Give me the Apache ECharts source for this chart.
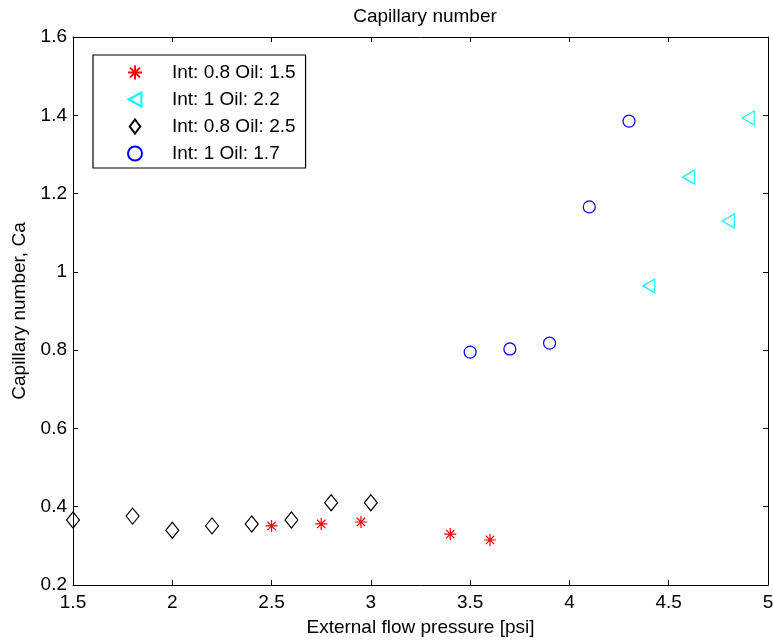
<!DOCTYPE html>
<html><head><meta charset="utf-8">
<script src="https://cdn.jsdelivr.net/npm/echarts@6/dist/echarts.min.js"></script>
<style>html,body{margin:0;padding:0;background:#fff}#c{width:773px;height:640px}</style>
</head><body><div id="c"></div>
<script>
const seriesNames = ['Int: 0.8 Oil: 1.5', 'Int: 1 Oil: 2.2', 'Int: 0.8 Oil: 2.5', 'Int: 1 Oil: 1.7'];
const redX = [2.5, 2.75, 2.95, 3.4, 3.6];
const redY = [0.351, 0.356, 0.361, 0.330, 0.315];
const cyanX = [4.4, 4.6, 4.8, 4.9];
const cyanY = [0.964, 1.242, 1.130, 1.393];
const blackX = [1.5, 1.8, 2.0, 2.2, 2.4, 2.6, 2.8, 3.0];
const blackY = [0.366, 0.376, 0.340, 0.351, 0.356, 0.366, 0.410, 0.410];
const blueX = [3.5, 3.7, 3.9, 4.1, 4.3];
const blueY = [0.795, 0.803, 0.818, 1.166, 1.385];

const pair = (xs, ys) => xs.map((x, i) => [x, ys[i]]);
const FONT = 'Liberation Sans';
const FS = 19;
const chart = echarts.init(document.getElementById('c'));
const fmt = v => String(+v.toFixed(1));
const baseAxis = {
  axisLine: {show: true, onZero: false, lineStyle: {color: '#000', width: 1}},
  axisTick: {show: true, inside: true, length: 5, lineStyle: {color: '#000'}},
  splitLine: {show: false}
};
chart.setOption({
  animation: false,
  backgroundColor: '#fff',
  title: {text: 'Capillary number', left: 420, top: 2, textAlign: 'center',
    textStyle: {fontFamily: FONT, fontSize: FS, fontWeight: 'normal', color: '#000'}},
  grid: {left: 73, right: 5, top: 37, bottom: 55, outerBoundsMode: 'none', containLabel: false},
  legend: {
    left: 93, top: 55, orient: 'vertical',
    backgroundColor: '#fff', borderColor: '#000', borderWidth: 1.2,
    padding: [8, 10, 5, 34], itemGap: 8, itemWidth: 16, itemHeight: 14,
    textStyle: {fontFamily: FONT, fontSize: FS, color: '#000', lineHeight: 19, padding: [0, 0, 0, 24]},
    data: seriesNames
  },
  xAxis: [
    Object.assign({}, baseAxis, {type: 'value', min: 1.5, max: 5, interval: 0.5, position: 'bottom',
      name: 'External flow pressure [psi]', nameLocation: 'middle', nameGap: 33,
      nameTextStyle: {fontFamily: FONT, fontSize: FS, color: '#000'},
      axisLabel: {formatter: fmt, fontFamily: FONT, fontSize: FS, color: '#000', margin: 8}}),
    Object.assign({}, baseAxis, {type: 'value', min: 1.5, max: 5, interval: 0.5, position: 'top',
      axisLabel: {show: false}})
  ],
  yAxis: [
    Object.assign({}, baseAxis, {type: 'value', min: 0.2, max: 1.6, interval: 0.2, position: 'left',
      name: 'Capillary number, Ca', nameLocation: 'middle', nameGap: 44,
      nameTextStyle: {fontFamily: FONT, fontSize: FS, color: '#000'},
      axisLabel: {formatter: fmt, fontFamily: FONT, fontSize: FS, color: '#000', margin: 6}}),
    Object.assign({}, baseAxis, {type: 'value', min: 0.2, max: 1.6, interval: 0.2, position: 'right',
      axisLabel: {show: false}})
  ],
  series: [
    {name: seriesNames[0], type: 'scatter', data: pair(redX, redY),
      symbol: 'path://M0,-1L0,1M-1,0L1,0M-0.7,-0.7L0.7,0.7M-0.7,0.7L0.7,-0.7', symbolSize: 12, symbolKeepAspect: true,
      itemStyle: {color: 'rgba(0,0,0,0)', borderColor: '#ff0000', borderWidth: 1.2, opacity: 1}},
    {name: seriesNames[1], type: 'scatter', data: pair(cyanX, cyanY),
      symbol: 'path://M0,6L11,0L11,12Z', symbolSize: [12, 14],
      itemStyle: {color: 'rgba(0,0,0,0)', borderColor: '#00ffff', borderWidth: 1.2, opacity: 1}},
    {name: seriesNames[2], type: 'scatter', data: pair(blackX, blackY),
      symbol: 'path://M6,0L12,8L6,16L0,8Z', symbolSize: [13, 16],
      itemStyle: {color: 'rgba(0,0,0,0)', borderColor: '#000000', borderWidth: 1.2, opacity: 1}},
    {name: seriesNames[3], type: 'scatter', data: pair(blueX, blueY),
      symbol: 'circle', symbolSize: 12,
      itemStyle: {color: 'rgba(0,0,0,0)', borderColor: '#0000ff', borderWidth: 1.2, opacity: 1}}
  ]
});
</script></body></html>
